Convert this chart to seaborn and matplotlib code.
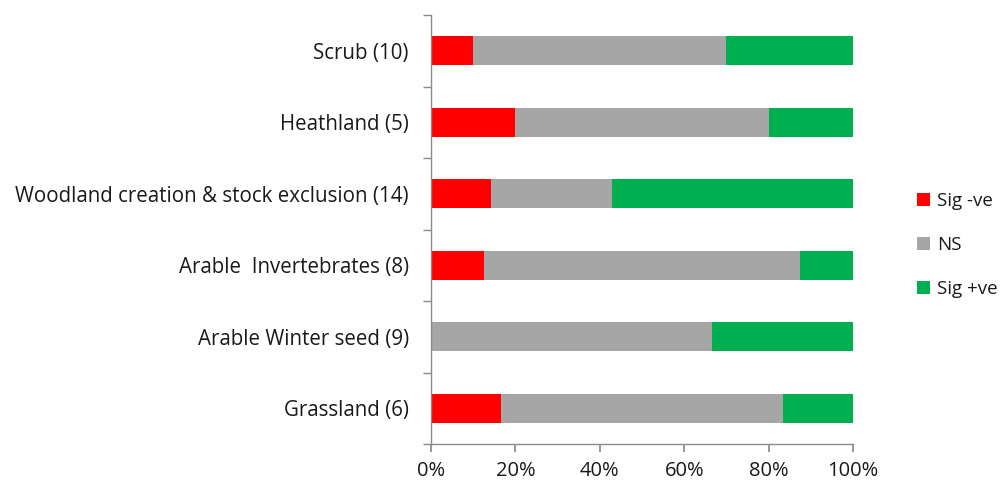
import matplotlib
matplotlib.use("Agg")
import matplotlib.pyplot as plt
import seaborn as sns
import pandas as pd
import numpy as np
from matplotlib.patches import Patch
from matplotlib.ticker import FixedLocator, PercentFormatter

categories = ["Scrub (10)", "Heathland (5)", "Woodland creation & stock exclusion (14)",
              "Arable  Invertebrates (8)", "Arable Winter seed (9)", "Grassland (6)"]
sig_neg = [10.0, 20.0, 14.3, 12.5, 0.0, 16.7]
ns = [60.0, 60.0, 28.6, 75.0, 66.7, 66.6]
sig_pos = [30.0, 20.0, 57.1, 12.5, 33.3, 16.7]
series_names = ["Sig -ve", "NS", "Sig +ve"]
colors = ["#FF0000", "#A6A6A6", "#00B050"]
xticks = [0, 20, 40, 60, 80, 100]

sns.set_theme(style="white")
plt.rcParams["font.family"] = ["Open Sans", "DejaVu Sans"]

df = pd.DataFrame({"cat": categories, "neg": sig_neg, "ns": ns, "pos": sig_pos})
df["c1"] = df["neg"]
df["c2"] = df["neg"] + df["ns"]
df["c3"] = df["neg"] + df["ns"] + df["pos"]

fig = plt.figure(figsize=(10.04, 4.84), dpi=100)
ax = fig.add_axes([431/1004, 1-444/484, (853-431)/1004, (444-15)/484])

for col, c in zip(["c3", "c2", "c1"], colors[::-1]):
    sns.barplot(data=df, x=col, y="cat", orient="h", color=c, width=0.4,
                saturation=1, ax=ax, linewidth=0)

ax.set_xlim(0, 100)
ax.set_ylim(5.5, -0.5)
ax.set_xlabel("")
ax.set_ylabel("")
ax.xaxis.set_major_locator(FixedLocator(xticks))
ax.xaxis.set_major_formatter(PercentFormatter(decimals=0))
ax.set_yticks(range(len(categories)))
ax.set_yticklabels(categories)
ax.yaxis.set_minor_locator(FixedLocator(np.arange(-0.5, 6, 1.0)))

for s in ["top", "right"]:
    ax.spines[s].set_visible(False)
for s in ["left", "bottom"]:
    ax.spines[s].set_color("#8C8C8C")
    ax.spines[s].set_linewidth(1.0)

ax.tick_params(axis="y", which="major", length=0, pad=16, labelsize=14.8, labelcolor="#1a1a1a")
ax.tick_params(axis="y", which="minor", length=6, color="#8C8C8C", left=True)
ax.tick_params(axis="x", which="major", length=6, color="#8C8C8C", bottom=True,
               labelsize=14.5, labelcolor="#1a1a1a", pad=6)

handles = [Patch(facecolor=c, edgecolor="none") for c in colors]
fig.legend(handles, series_names, loc="center left", bbox_to_anchor=(917/1004, 1-245/484),
           frameon=False, fontsize=13.5, handlelength=0.7, handleheight=0.7,
           labelspacing=1.4, handletextpad=0.35, borderpad=0, borderaxespad=0,
           labelcolor="#1a1a1a")

fig.savefig("out.png", dpi=100)
